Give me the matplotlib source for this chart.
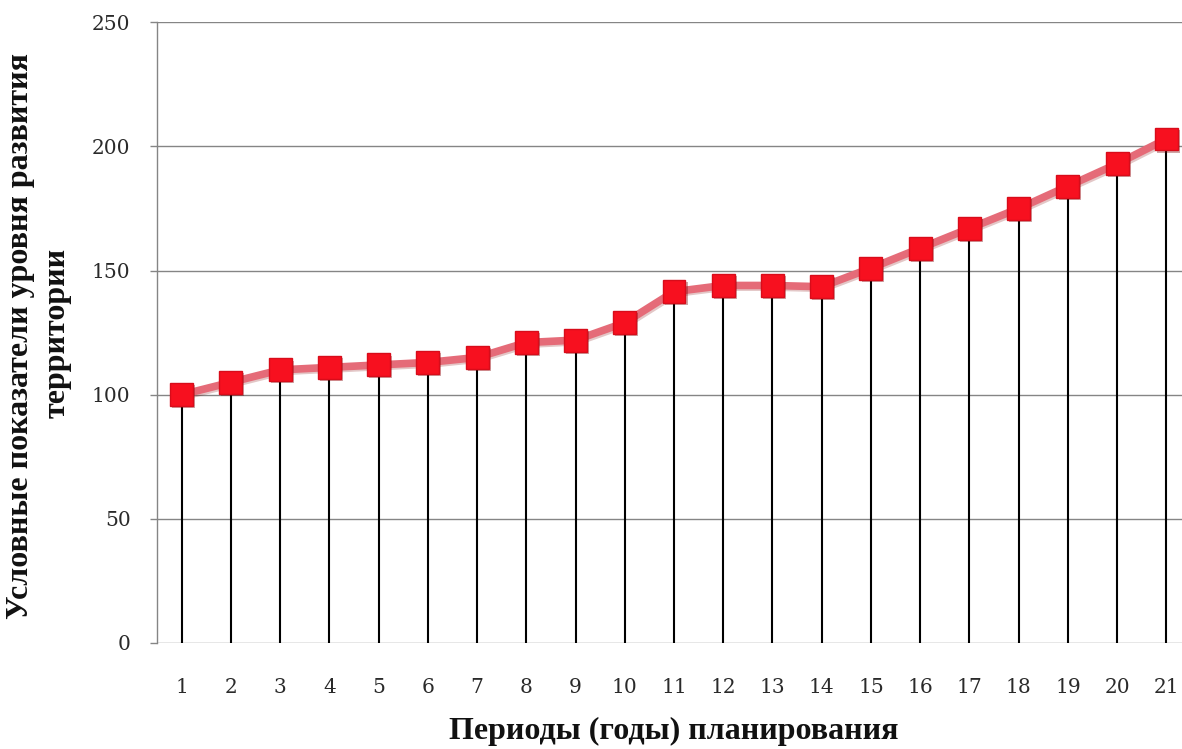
import matplotlib
matplotlib.use("Agg")
import matplotlib.pyplot as plt
import matplotlib.patheffects as pe

# Planning periods and the conventional territory development index
periods = list(range(1, 22))
period_labels = [str(p) for p in periods]
index_values = [100, 105, 110, 111, 112, 113, 115, 121, 122, 129, 141.5,
                144, 144, 143.5, 151, 159, 167, 175, 184, 193, 203]
y_ticks = [0, 50, 100, 150, 200, 250]

ylabel_line1 = "Условные показатели уровня развития"
ylabel_line2 = "территории"
xlabel_text = "Периоды (годы) планирования"

plt.rcParams["font.family"] = ["Liberation Serif", "DejaVu Serif"]

W, H = 1182, 749
fig = plt.figure(figsize=(W / 100, H / 100), dpi=100)
fig.patch.set_facecolor("white")

left_px, right_px, top_px, bottom_px = 157, 1191, 22.3, 643
ax = fig.add_axes([left_px / W, 1 - bottom_px / H,
                   (right_px - left_px) / W, (bottom_px - top_px) / H])

ax.set_xlim(0.5, 21.5)
ax.set_ylim(0, 250)

# horizontal grid
for yv in y_ticks:
    ax.axhline(yv, color="#858585", lw=1.0, zorder=1)

# drop lines from the axis to each point
ax.vlines(periods, 0, index_values, color="black", lw=1.5, zorder=2)

# connecting line and square markers
ax.plot(periods, index_values, color="#E56B78", lw=5.5, zorder=3,
        solid_capstyle="round",
        path_effects=[pe.SimpleLineShadow(offset=(1.2, -1.2), alpha=0.22,
                                          shadow_color="#800000"),
                      pe.Normal()])
ax.plot(periods, index_values, linestyle="none", marker="s",
        markersize=16.5, markerfacecolor="#F7101F", markeredgecolor="#D80C1A",
        markeredgewidth=1.0, zorder=4,
        path_effects=[pe.SimplePatchShadow(offset=(1.5, -1.5), alpha=0.35,
                                           shadow_rgbFace="#700000"),
                      pe.Normal()])

for s in ["top", "right", "bottom"]:
    ax.spines[s].set_visible(False)
ax.spines["left"].set_color("#858585")
ax.spines["left"].set_linewidth(1.0)

ax.set_yticks(y_ticks)
ax.set_yticklabels([str(v) for v in y_ticks], family=["DejaVu Serif"])
ax.set_xticks(periods)
ax.set_xticklabels(period_labels, family=["DejaVu Serif"])
ax.tick_params(axis="y", direction="out", length=5, width=1.0,
               color="#858585", pad=14, labelsize=14.5, labelcolor="#2a2a2a")
ax.tick_params(axis="x", length=0, pad=25, labelsize=14.5,
               labelcolor="#2a2a2a")

fig.text(21 / W, 1 - 336 / H, ylabel_line1, rotation=90, ha="center",
         va="center", fontsize=23, fontweight="bold", color="#111111")
fig.text(57 / W, 1 - 333 / H, ylabel_line2, rotation=90, ha="center",
         va="center", fontsize=23, fontweight="bold", color="#111111")
fig.text(674 / W, 1 - 731 / H, xlabel_text, ha="center", va="center",
         fontsize=23, fontweight="bold", color="#111111")

fig.savefig("out.png", dpi=100, facecolor="white")
